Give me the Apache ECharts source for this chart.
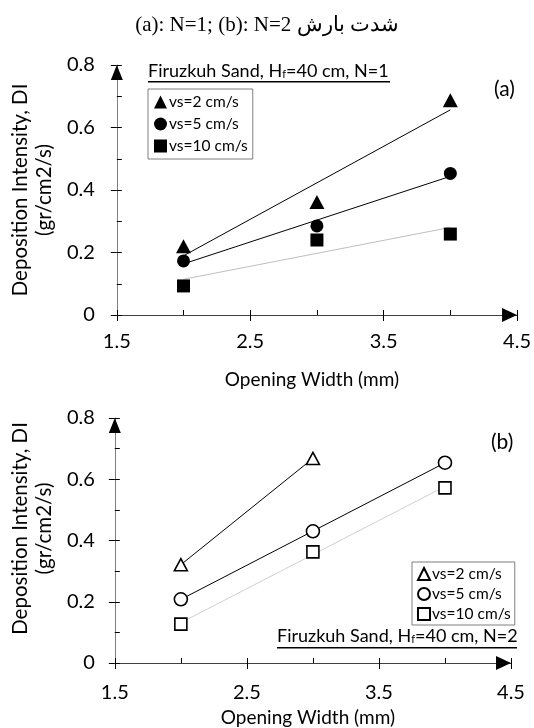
<!DOCTYPE html>
<html>
<head>
<meta charset="utf-8">
<script src="https://cdn.jsdelivr.net/npm/echarts@6/dist/echarts.min.js"></script>
<style>
  html, body { margin: 0; padding: 0; background: #fff; }
  #chart { width: 534px; height: 728px; }
</style>
</head>
<body>
<div id="chart"></div>
<script>
// opening width (mm) on x, deposition intensity DI (gr/cm2/s) on y
const widthN1 = [2, 3, 4];
const diN1Vs2 = [0.22, 0.362, 0.687];
const diN1Vs5 = [0.173, 0.285, 0.453];
const diN1Vs10 = [0.093, 0.24, 0.259];

const widthN2Vs2 = [2, 3];
const diN2Vs2 = [0.321, 0.668];
const widthN2 = [2, 3, 4];
const diN2Vs5 = [0.208, 0.43, 0.654];
const diN2Vs10 = [0.127, 0.363, 0.572];

const speedNames = ['vs=2 cm/s', 'vs=5 cm/s', 'vs=10 cm/s'];
const xLabelValues = [1.5, 2.5, 3.5, 4.5];
const yLabelValues = [0, 0.2, 0.4, 0.6, 0.8];

const FONT = 'Lato';

function pairs(xs, ys) {
  return xs.map((x, i) => [x, ys[i]]);
}

// least squares trend line, drawn between first and last x
function trend(xs, ys) {
  const n = xs.length;
  const mx = xs.reduce((a, b) => a + b, 0) / n;
  const my = ys.reduce((a, b) => a + b, 0) / n;
  let sxy = 0, sxx = 0;
  for (let i = 0; i < n; i++) {
    sxy += (xs[i] - mx) * (ys[i] - my);
    sxx += (xs[i] - mx) * (xs[i] - mx);
  }
  const k = sxy / sxx;
  const x0 = xs[0], x1 = xs[n - 1];
  return [[x0, my + k * (x0 - mx)], [x1, my + k * (x1 - mx)]];
}

function hasLabel(list, v) {
  return list.some(t => Math.abs(t - v) < 1e-6);
}

// main axis: minor ticks inside + labels; second axis: outside half of the major ticks + arrow
function xAxes(grid) {
  return [
    {
      type: 'value', gridIndex: grid, position: 'bottom', min: 1.5, max: 4.5, interval: 0.5,
      splitLine: { show: false },
      axisLine: { lineStyle: { color: '#404040', width: 1 } },
      axisTick: { inside: true, length: 5, lineStyle: { color: '#000' } },
      axisLabel: {
        fontFamily: FONT, fontSize: 20, color: '#000', margin: grid === 0 ? 17 : 20,
        formatter: v => hasLabel(xLabelValues, v) ? String(v) : ''
      },
      name: 'Opening Width (mm)', nameLocation: 'middle',
      nameGap: grid === 0 ? 55 : 45,
      nameTextStyle: { fontFamily: FONT, fontSize: 19, color: '#000', padding: [0, 10, 0, 0] }
    },
    {
      type: 'value', gridIndex: grid, position: 'bottom', offset: 0, min: 1.5, max: 4.5, interval: 1,
      splitLine: { show: false },
      axisLine: {
        show: true, lineStyle: { color: '#000', width: 0 },
        symbol: ['none', 'triangle'], symbolSize: [14, 15], symbolOffset: [0, -7.5]
      },
      axisTick: { inside: false, length: 6, lineStyle: { color: '#000' } },
      axisLabel: { show: false }
    }
  ];
}

function yAxes(grid) {
  return [
    {
      type: 'value', gridIndex: grid, position: 'left', min: 0, max: 0.8, interval: 0.1,
      splitLine: { show: false },
      axisLine: { lineStyle: { color: '#7f7f7f', width: 1 } },
      axisTick: { inside: true, length: 5, lineStyle: { color: '#000' } },
      axisLabel: {
        fontFamily: FONT, fontSize: 20, color: '#000', margin: grid === 0 ? 22 : 20,
        formatter: v => hasLabel(yLabelValues, v) ? String(+v.toFixed(1)) : ''
      },
      name: 'Deposition Intensity, DI\n(gr/cm2/s)', nameLocation: 'middle',
      nameRotate: 90, nameGap: grid === 0 ? 52 : 48,
      nameTextStyle: {
        fontFamily: FONT, fontSize: 20.5, color: '#000', lineHeight: 24,
        padding: grid === 0 ? 0 : [0, 0, 0, 24]
      }
    },
    {
      type: 'value', gridIndex: grid, position: 'left', offset: 0, min: 0, max: 0.8, interval: 0.2,
      splitLine: { show: false },
      axisLine: {
        show: true, lineStyle: { color: '#000', width: 0 },
        symbol: ['none', 'triangle'], symbolSize: [12, 15], symbolOffset: [0, -7.5]
      },
      axisTick: { inside: false, length: 6, lineStyle: { color: '#000' } },
      axisLabel: { show: false }
    }
  ];
}

function lineSeries(x, y, data, color) {
  return {
    type: 'line', xAxisIndex: x, yAxisIndex: y, data: data,
    symbol: 'none', silent: true, z: 1,
    lineStyle: { color: color, width: 1 }
  };
}

function dotSeries(name, x, y, data, symbol, size, hollow) {
  return {
    name: name, type: 'scatter', xAxisIndex: x, yAxisIndex: y, data: data,
    symbol: symbol, symbolSize: size, z: 3,
    itemStyle: hollow
      ? { color: '#fff', borderColor: '#000', borderWidth: 1.6, opacity: 1 }
      : { color: '#000', opacity: 1 }
  };
}

function noteText(text) {
  return {
    type: 'text', x: 0, y: 0,
    style: {
      text: text,
      rich: {
        a: { fontFamily: FONT, fontSize: 18, fill: '#000' },
        s: { fontFamily: FONT, fontSize: 11, fill: '#000', padding: [6, 0, 0, 0] }
      }
    }
  };
}

const chart = echarts.init(document.getElementById('chart'));

const legendText = { fontFamily: FONT, fontSize: 15.5, color: '#000', padding: [0, 0, 0, -3] };
const panelText = { fontFamily: FONT, fontSize: 21, fontWeight: 'normal', color: '#000' };

chart.setOption({
  animation: false,
  backgroundColor: '#fff',
  title: [
    {
      text: '(a): N=1; (b): N=2 شدت بارش', left: 'center', top: 10,
      textStyle: { fontFamily: 'Liberation Serif', fontSize: 21, fontWeight: 'normal', color: '#000' }
    },
    { text: '(a)', left: 489, top: 74, textStyle: panelText },
    { text: '(b)', left: 486, top: 427, textStyle: panelText }
  ],
  grid: [
    { left: 114, top: 65, width: 407, height: 250 },
    { left: 108, top: 418, width: 403, height: 246 }
  ],
  xAxis: xAxes(0).concat(xAxes(1)),
  yAxis: yAxes(0).concat(yAxes(1)),
  legend: [
    {
      orient: 'vertical', left: 148, top: 89, padding: [5, 5, 5, 6], itemGap: 6,
      itemWidth: 13, itemHeight: 13, selectedMode: false,
      borderColor: '#7f7f7f', borderWidth: 1,
      data: speedNames, textStyle: legendText
    },
    {
      orient: 'vertical', left: 412, top: 562, padding: [4, 4, 3, 5], itemGap: 4,
      itemWidth: 12, itemHeight: 12, selectedMode: false,
      borderColor: '#7f7f7f', borderWidth: 1,
      data: speedNames.map(n => 'b ' + n), textStyle: legendText,
      formatter: n => n.slice(2)
    }
  ],
  graphic: [
    {
      type: 'group', left: 148, top: 62,
      children: [
        noteText('{a|Firuzkuh Sand, H}{s|f}{a|=40 cm, N=1}'),
        { type: 'rect', shape: { x: 0, y: 19, width: 242, height: 1.6 }, style: { fill: '#000' } }
      ]
    },
    {
      type: 'group', left: 277, top: 627,
      children: [
        noteText('{a|Firuzkuh Sand, H}{s|f}{a|=40 cm, N=2}'),
        { type: 'rect', shape: { x: 0, y: 20, width: 240, height: 1.6 }, style: { fill: '#000' } }
      ]
    }
  ],
  series: [
    // (a) N=1
    lineSeries(0, 0, trend(widthN1, diN1Vs2), '#000'),
    lineSeries(0, 0, trend(widthN1, diN1Vs5), '#000'),
    lineSeries(0, 0, trend(widthN1, diN1Vs10), '#bfbfbf'),
    dotSeries(speedNames[0], 0, 0, pairs(widthN1, diN1Vs2), 'triangle', [15, 14], false),
    dotSeries(speedNames[1], 0, 0, pairs(widthN1, diN1Vs5), 'circle', 13, false),
    dotSeries(speedNames[2], 0, 0, pairs(widthN1, diN1Vs10), 'rect', 13, false),
    // (b) N=2
    lineSeries(2, 2, trend(widthN2Vs2, diN2Vs2), '#000'),
    lineSeries(2, 2, trend(widthN2, diN2Vs5), '#000'),
    lineSeries(2, 2, trend(widthN2, diN2Vs10), '#d0d0d0'),
    dotSeries('b ' + speedNames[0], 2, 2, pairs(widthN2Vs2, diN2Vs2), 'triangle', [13, 12], true),
    dotSeries('b ' + speedNames[1], 2, 2, pairs(widthN2, diN2Vs5), 'circle', 13, true),
    dotSeries('b ' + speedNames[2], 2, 2, pairs(widthN2, diN2Vs10), 'rect', 12, true)
  ]
});
</script>
</body>
</html>
